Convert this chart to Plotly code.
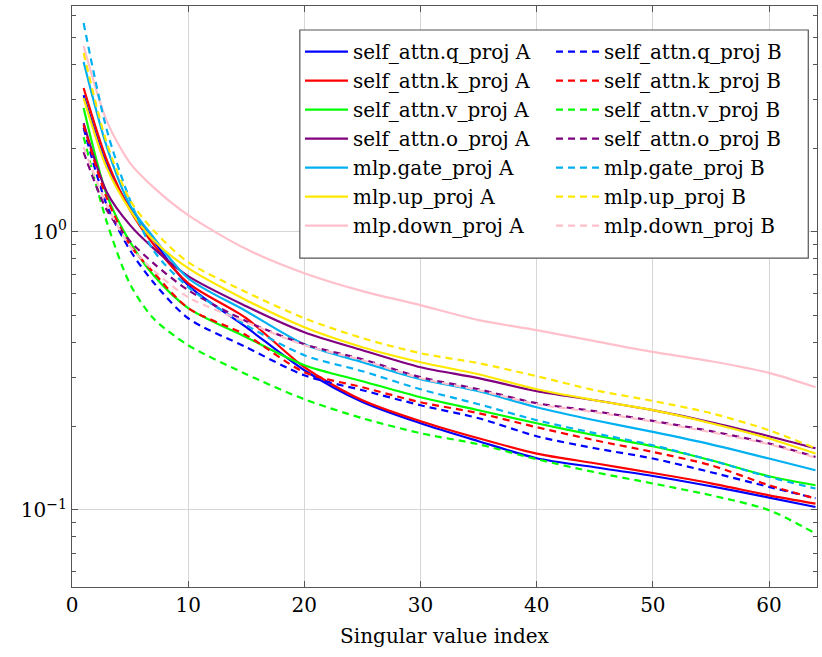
import plotly.graph_objects as go

# singular value index (1-based)
idx = [1, 3, 5, 7, 10, 15, 20, 25, 30, 35, 40, 45, 50, 55, 60, 64]

# LoRA "A" factors
q_proj_A = [3.10, 1.738, 1.217, 0.934, 0.643, 0.454, 0.318, 0.2445, 0.205, 0.1767, 0.1535, 0.1424, 0.1325, 0.1217, 0.1108, 0.1025]
k_proj_A = [3.29, 1.811, 1.197, 0.903, 0.654, 0.489, 0.326, 0.248, 0.2085, 0.181, 0.1595, 0.1472, 0.1358, 0.1247, 0.1129, 0.1054]
v_proj_A = [2.786, 1.355, 0.918, 0.699, 0.532, 0.418, 0.3315, 0.2904, 0.2543, 0.2284, 0.205, 0.1856, 0.1694, 0.1509, 0.1322, 0.1227]
o_proj_A = [2.460, 1.389, 1.057, 0.874, 0.693, 0.540, 0.4357, 0.3754, 0.326, 0.2977, 0.2673, 0.248, 0.2284, 0.2068, 0.1841, 0.1667]
gate_proj_A = [4.077, 2.017, 1.247, 0.957, 0.681, 0.5185, 0.3945, 0.3398, 0.2953, 0.2673, 0.2341, 0.2102, 0.1909, 0.1722, 0.1531, 0.1389]
up_proj_A = [3.027, 1.695, 1.197, 0.934, 0.740, 0.5679, 0.454, 0.3848, 0.3398, 0.3077, 0.2717, 0.248, 0.2284, 0.205, 0.1806, 0.1595]
down_proj_A = [4.656, 2.501, 1.767, 1.448, 1.148, 0.867, 0.710, 0.612, 0.545, 0.4813, 0.443, 0.4045, 0.370, 0.3426, 0.311, 0.2762]

# LoRA "B" factors
q_proj_B = [2.361, 1.247, 0.859, 0.659, 0.489, 0.3848, 0.305, 0.2695, 0.238, 0.2137, 0.1841, 0.1667, 0.1531, 0.1367, 0.121, 0.1102]
k_proj_B = [2.420, 1.322, 0.896, 0.716, 0.532, 0.425, 0.313, 0.2762, 0.244, 0.2228, 0.1984, 0.1781, 0.1616, 0.1448, 0.1227, 0.1099]
v_proj_B = [2.191, 1.084, 0.6484, 0.489, 0.3913, 0.3077, 0.250, 0.2137, 0.1888, 0.1722, 0.1522, 0.1367, 0.1245, 0.1129, 0.0998, 0.0823]
o_proj_B = [1.935, 1.197, 0.926, 0.772, 0.617, 0.4773, 0.3945, 0.3483, 0.3002, 0.2717, 0.242, 0.2265, 0.209, 0.192, 0.1733, 0.1551]
gate_proj_B = [5.633, 2.322, 1.300, 0.859, 0.633, 0.462, 0.360, 0.3154, 0.2717, 0.240, 0.2102, 0.1888, 0.1709, 0.1509, 0.1314, 0.1194]
up_proj_B = [4.393, 2.085, 1.300, 1.014, 0.778, 0.607, 0.489, 0.4147, 0.3662, 0.337, 0.3027, 0.2695, 0.2466, 0.2228, 0.1935, 0.1667]
down_proj_B = [2.017, 1.247, 0.888, 0.728, 0.582, 0.4733, 0.3913, 0.3455, 0.2977, 0.2695, 0.240, 0.2246, 0.2077, 0.1904, 0.1722, 0.1541]

modules = ["self_attn.q_proj", "self_attn.k_proj", "self_attn.v_proj", "self_attn.o_proj",
           "mlp.gate_proj", "mlp.up_proj", "mlp.down_proj"]
colors = ["#0000ff", "#ff0000", "#00ff00", "#800080", "#00b0f0", "#ffe800", "#ffc0cb"]
series_A = [q_proj_A, k_proj_A, v_proj_A, o_proj_A, gate_proj_A, up_proj_A, down_proj_A]
series_B = [q_proj_B, k_proj_B, v_proj_B, o_proj_B, gate_proj_B, up_proj_B, down_proj_B]

FONT = "DejaVu Serif"

fig = go.Figure()
for name, col, ya in zip(modules, colors, series_A):
    fig.add_trace(go.Scatter(x=idx, y=ya, mode="lines", name=f"{name} A",
                             line=dict(color=col, width=2.2, shape="spline", smoothing=0.8),
                             legend="legend"))
for name, col, yb in zip(modules, colors, series_B):
    fig.add_trace(go.Scatter(x=idx, y=yb, mode="lines", name=f"{name} B",
                             line=dict(color=col, width=2.2, dash="7px,5px", shape="spline", smoothing=0.8),
                             legend="legend2"))

axis_common = dict(
    showline=True, linecolor="#555555", linewidth=1.2, mirror="allticks",
    ticks="inside", tickcolor="#555555", ticklen=6,
    showgrid=True, gridcolor="#d6d6d6", gridwidth=1,
    zeroline=False, tickfont=dict(family=FONT, size=20, color="black"),
)

fig.update_xaxes(**axis_common, range=[0, 64.13], tickvals=[0, 10, 20, 30, 40, 50, 60],
                 title=dict(text="Singular value index", font=dict(family=FONT, size=20, color="black"),
                            standoff=12))
minor_vals = [m * 10 ** e for e in (-2, -1, 0) for m in range(2, 10)]
fig.update_yaxes(**axis_common, type="log", range=[-1.277, 0.812],
                 tickvals=[0.1, 1], ticktext=["10<sup>−1</sup>", "10<sup>0</sup>"],
                 minor=dict(ticks="inside", ticklen=4, tickcolor="#555555", tickvals=minor_vals,
                            showgrid=False))

legend_common = dict(
    font=dict(family=FONT, size=20, color="black"), bgcolor="rgba(0,0,0,0)",
    borderwidth=0, tracegroupgap=0, itemwidth=43, xanchor="left", yanchor="top",
    itemclick=False, itemdoubleclick=False,
)

fig.update_layout(
    width=822, height=657,
    margin=dict(l=72, r=5, t=6, b=70),
    plot_bgcolor="white", paper_bgcolor="white",
    legend=dict(**legend_common, x=0.306, y=0.955),
    legend2=dict(**legend_common, x=0.643, y=0.955),
    shapes=[dict(type="rect", xref="paper", yref="paper", x0=0.3058, x1=0.9883, y0=0.566, y1=0.9587,
                 line=dict(color="#555555", width=1.2), fillcolor="white", layer="above")],
)

fig.write_html("out.html")
